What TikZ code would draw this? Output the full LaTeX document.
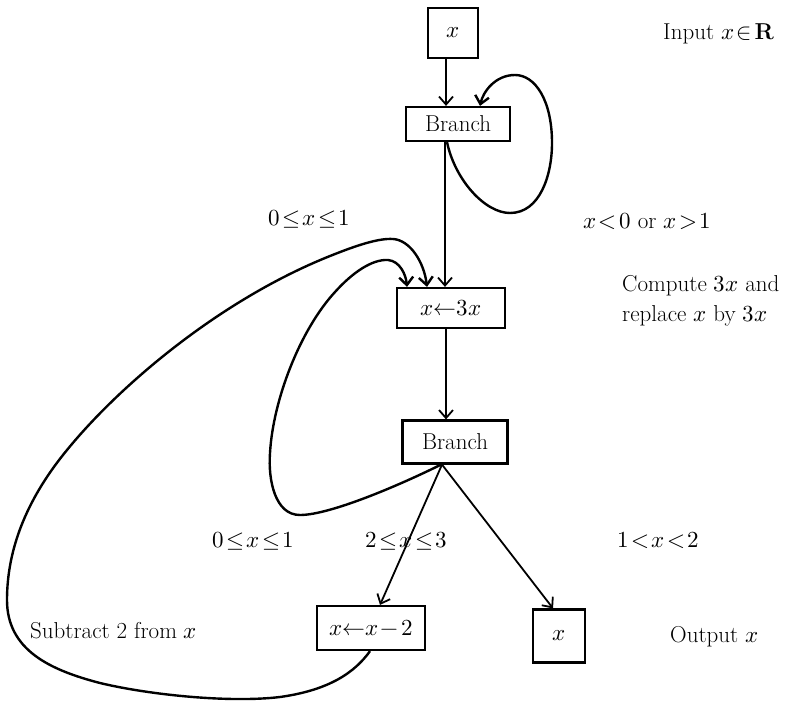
\documentclass[tikz,border=0pt]{standalone}
\usepackage{fontspec}
\usepackage{unicode-math}
\usetikzlibrary{arrows.meta}
\tikzset{
  txt/.style={font=\fontsize{23}{27}\selectfont},
  box/.style={draw, line width=2.2pt, inner sep=0pt, txt},
  lbl/.style={anchor=base west, inner sep=0pt, txt},
  conn/.style={line width=1.8pt, -{Straight Barb[length=8pt,width=14pt]}},
  curve/.style={line width=2.4pt, -{Straight Barb[length=8pt,width=14pt]}},
}
\begin{document}
\begin{tikzpicture}[x=1pt,y=-1pt]
\thickmuskip=2mu plus 1mu
\medmuskip=2mu
\useasboundingbox (0,0) rectangle (791,701);
% boxes
\node[box, minimum width=50pt, minimum height=50pt] (xin) at (453,33) {$x$};
\node[box, minimum width=104pt, minimum height=34pt] (b1) at (458,124) {Branch};
\node[box, minimum width=108pt, minimum height=40pt] (c3) at (451,308) {$x{\leftarrow}3x$};
\node[box, minimum width=105pt, minimum height=43pt] (b2) at (455,442) {Branch};
\node[box, minimum width=108pt, minimum height=44pt] (sub) at (371,628) {$x{\leftarrow}x-2$};
\node[box, minimum width=52pt, minimum height=53pt] (out) at (559,636) {$x$};
% labels
\node[lbl] (l1) at (663,40) {Input $x\in\mathbf{R}$};
\node[lbl] (l2) at (268,225) {$0\leq x\leq 1$};
\node[lbl] (l3) at (583,228) {$x<0$ or $x>1$};
\node[lbl] (l4) at (622,291) {Compute $3x$ and};
\node[lbl] (l5) at (622,321) {replace $x$ by $3x$};
\node[lbl] (l6) at (212,547) {$0\leq x\leq 1$};
\node[lbl] (l7) at (365,547) {$2\leq x\leq 3$};
\node[lbl] (l8) at (617,547) {$1<x<2$};
\node[lbl] (l9) at (30,638) {Subtract 2 from $x$};
\node[lbl] (l10) at (670,642) {Output $x$};
% straight connectors
\draw[conn] ([xshift=-7pt]xin.south) -- ([xshift=-12pt]b1.north);
\draw[conn] ([xshift=-13pt]b1.south) -- ([xshift=-6pt]c3.north);
\draw[conn] ([xshift=-5pt]c3.south) -- ([xshift=-9pt]b2.north);
\draw[conn] ([xshift=-13pt]b2.south) -- ([xshift=9pt]sub.north);
\draw[conn] ([xshift=-13pt]b2.south) -- ([xshift=-6pt]out.north);
% self loop on first branch
\draw[curve] ([xshift=-11pt]b1.south) .. controls (455,180) and (485,213) .. (510,213)
  .. controls (540,213) and (552,175) .. (552,143)
  .. controls (552,100) and (535,75) .. (515,75)
  .. controls (495,75) and (483,92) .. ([xshift=22pt]b1.north);
% inner loop from second branch
\draw[curve] ([xshift=-14pt]b2.south) .. controls (400,485) and (330,515) .. (300,515)
  .. controls (275,515) and (268,480) .. (270,453)
  .. controls (273,400) and (300,330) .. (335,292)
  .. controls (352,273) and (372,259) .. (388,260)
  .. controls (400,261) and (406,275) .. ([xshift=-44pt]c3.north);
% big loop from subtract box
\draw[curve] ([xshift=-1pt]sub.south) .. controls (355,672) and (330,690) .. (280,697)
  .. controls (230,703) and (150,695) .. (100,683)
  .. controls (50,670) and (7,650) .. (7,600)
  .. controls (7,545) and (30,495) .. (67,450)
  .. controls (120,385) and (220,300) .. (330,256)
  .. controls (355,246) and (378,238) .. (393,239)
  .. controls (410,240) and (424,262) .. ([xshift=-24pt]c3.north);
\end{tikzpicture}
\end{document}
